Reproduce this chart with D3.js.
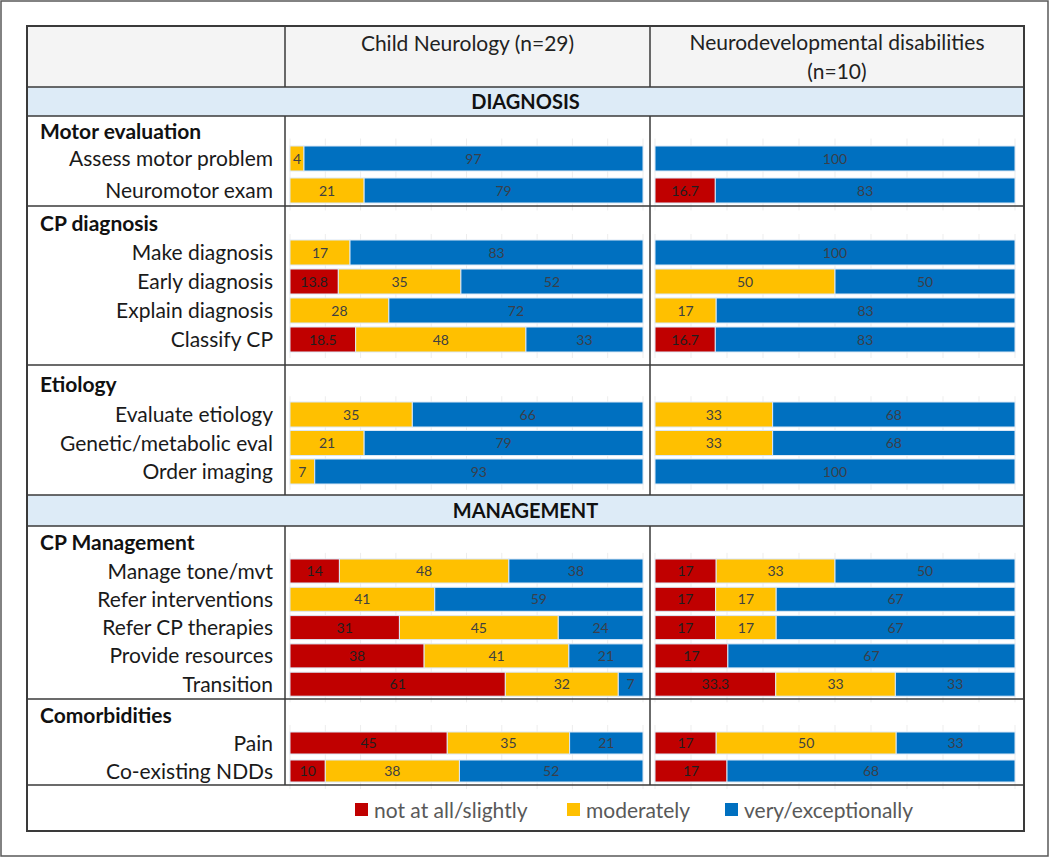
<!DOCTYPE html>
<html>
<head>
<meta charset="utf-8">
<script src="https://cdn.jsdelivr.net/npm/d3@7"></script>
<style>
  body { margin: 0; background: #fff; }
  svg { display: block; }
</style>
</head>
<body>
<script>
const groups = ["Motor evaluation", "CP diagnosis", "Etiology", "CP Management", "Comorbidities"];
const items = ["Assess motor problem", "Neuromotor exam",
    "Make diagnosis", "Early diagnosis", "Explain diagnosis", "Classify CP",
    "Evaluate etiology", "Genetic/metabolic eval", "Order imaging",
    "Manage tone/mvt", "Refer interventions", "Refer CP therapies", "Provide resources", "Transition",
    "Pain", "Co-existing NDDs"];
const itemGroup = [0, 0, 1, 1, 1, 1, 2, 2, 2, 3, 3, 3, 3, 3, 4, 4];
const columns = ["Child Neurology (n=29)", "Neurodevelopmental disabilities (n=10)"];
const levels = ["not at all/slightly", "moderately", "very/exceptionally"];

// Child Neurology
const cnNot = [0, 0, 0, 13.8, 0, 18.5, 0, 0, 0, 14, 0, 31, 38, 61, 45, 10];
const cnMod = [4, 21, 17, 35, 28, 48, 35, 21, 7, 48, 41, 45, 41, 32, 35, 38];
const cnVery = [97, 79, 83, 52, 72, 33, 66, 79, 93, 38, 59, 24, 21, 7, 21, 52];
// Neurodevelopmental disabilities
const nddNot = [0, 16.7, 0, 0, 0, 16.7, 0, 0, 0, 17, 17, 17, 17, 33.3, 17, 17];
const nddMod = [0, 0, 0, 50, 17, 0, 33, 33, 0, 33, 17, 17, 0, 33, 50, 0];
const nddVery = [100, 83, 100, 50, 83, 83, 68, 68, 100, 50, 67, 67, 67, 33, 33, 68];

const colors = ["#C00000", "#FFC000", "#0070C0"];
const labelColors = ["#1f1f1f", "#404040", "#3a3f4a"];

const width = 1050, height = 858;
const tL = 27, tR = 1024, tT = 26, tB = 831;
const c1 = 285, c2 = 650;
const font = "Lato, 'Open Sans', sans-serif";

// section geometry: [top, bottom, headingY, firstBarTop, pitch, barH]
const layout = [
    [116, 206, 131, 146, 32, 25],
    [206, 365, 223, 240, 29, 25],
    [365, 495, 384, 402, 28.5, 25],
    [526, 699, 542, 559, 28.3, 24],
    [699, 785, 715, 732, 28, 22]
];
const bands = [["DIAGNOSIS", 87, 116], ["MANAGEMENT", 495, 526]];

const svg = d3.select('body')
    .append('svg')
    .attr('width', width)
    .attr('height', height);

svg.append('rect')
    .attr('x', 1).attr('y', 1)
    .attr('width', width - 3).attr('height', height - 3)
    .attr('fill', '#fff')
    .attr('stroke', '#595959')
    .attr('stroke-width', 1.5);

// header row
svg.append('rect')
    .attr('x', tL).attr('y', tT)
    .attr('width', tR - tL).attr('height', 87 - tT)
    .attr('fill', '#f4f4f4');

const head = (x, y, t) => svg.append('text')
    .attr('x', x).attr('y', y)
    .attr('text-anchor', 'middle')
    .style('font-family', font).style('font-size', '21px').style('fill', '#222')
    .text(t);
head((c1 + c2) / 2, 51, columns[0]);
head((c2 + tR) / 2, 50, "Neurodevelopmental disabilities");
head((c2 + tR) / 2, 79, "(n=10)");

// DIAGNOSIS / MANAGEMENT bands
bands.forEach(function (b) {
    svg.append('rect')
        .attr('x', tL).attr('y', b[1])
        .attr('width', tR - tL).attr('height', b[2] - b[1])
        .attr('fill', '#DDEBF7');
    svg.append('text')
        .attr('x', (tL + tR) / 2).attr('y', (b[1] + b[2]) / 2 + 7)
        .attr('text-anchor', 'middle')
        .style('font-family', font).style('font-size', '20px')
        .style('font-weight', 'bold').style('fill', '#111')
        .text(b[0]);
});

const x1 = d3.scaleLinear().domain([0, 1]).range([290, 643]);
const x2 = d3.scaleLinear().domain([0, 1]).range([655, 1015]);
const panels = [
    {x: x1, not: cnNot, mod: cnMod, very: cnVery},
    {x: x2, not: nddNot, mod: nddMod, very: nddVery}
];

const stack = d3.stack()
    .keys([0, 1, 2])
    .offset(d3.stackOffsetExpand);

groups.forEach(function (g, gi) {
    const L = layout[gi];
    const idx = d3.range(items.length).filter(i => itemGroup[i] === gi);
    const names = idx.map(i => items[i]);
    const gap = L[4] - L[5];
    const y = d3.scaleBand()
        .domain(names)
        .range([L[3] - gap / 2, L[3] - gap / 2 + names.length * L[4]])
        .paddingInner(gap / L[4])
        .paddingOuter(gap / L[4] / 2);

    svg.append('text')
        .attr('x', 40).attr('y', L[2] + 7.5)
        .style('font-family', font).style('font-size', '21px')
        .style('font-weight', 'bold').style('fill', '#111')
        .text(g);

    svg.append('g')
        .selectAll('text')
        .data(names)
        .enter().append('text')
        .attr('x', 273)
        .attr('y', d => y(d) + y.bandwidth() / 2 + 7.5)
        .attr('text-anchor', 'end')
        .style('font-family', font).style('font-size', '21px').style('fill', '#1a1a1a')
        .text(d => d);

    panels.forEach(function (p) {
        const rows = idx.map(i => ({name: items[i], 0: p.not[i], 1: p.mod[i], 2: p.very[i]}));
        const series = stack(rows);

        // faint gridlines
        svg.append('g')
            .selectAll('line')
            .data(d3.range(0, 1.01, 0.1))
            .enter().append('line')
            .attr('x1', d => p.x(d)).attr('x2', d => p.x(d))
            .attr('y1', y.range()[0] - 4).attr('y2', y.range()[1] + 4)
            .attr('stroke', '#ededed')
            .attr('stroke-width', 1);

        series.forEach(function (s, k) {
            const segs = s.map((d, j) => ({d: d, v: rows[j][k], name: rows[j].name}))
                .filter(e => e.v > 0);
            svg.append('g')
                .selectAll('rect')
                .data(segs)
                .enter().append('rect')
                .attr('x', e => p.x(e.d[0]))
                .attr('y', e => y(e.name))
                .attr('width', e => p.x(e.d[1]) - p.x(e.d[0]))
                .attr('height', y.bandwidth())
                .attr('fill', colors[k])
                .attr('stroke', '#dbe8f5')
                .attr('stroke-width', 1);
            svg.append('g')
                .selectAll('text')
                .data(segs)
                .enter().append('text')
                .attr('x', e => (p.x(e.d[0]) + p.x(e.d[1])) / 2)
                .attr('y', e => y(e.name) + y.bandwidth() / 2 + 5)
                .attr('text-anchor', 'middle')
                .style('font-family', font).style('font-size', '14px')
                .style('fill', labelColors[k])
                .text(e => e.v);
        });
    });
});

// table lines
const line = (xa, ya, xb, yb, w) => svg.append('line')
    .attr('x1', xa).attr('y1', ya).attr('x2', xb).attr('y2', yb)
    .attr('stroke', '#3a3a3a').attr('stroke-width', w);

[87, 116, 206, 365, 495, 526, 699, 785].forEach(yy => line(tL, yy, tR, yy, 1.5));
[[tT, 87], [116, 495], [526, 785]].forEach(function (r) {
    line(c1, r[0], c1, r[1], 1.5);
    line(c2, r[0], c2, r[1], 1.5);
});
svg.append('rect')
    .attr('x', tL).attr('y', tT)
    .attr('width', tR - tL).attr('height', tB - tT)
    .attr('fill', 'none')
    .attr('stroke', '#3a3a3a')
    .attr('stroke-width', 2);

// legend
const legendX = [355, 567, 725];
const legend = svg.append('g')
    .selectAll('g')
    .data(levels)
    .enter().append('g')
    .attr('transform', (d, i) => 'translate(' + legendX[i] + ',810)');
legend.append('rect')
    .attr('x', 0).attr('y', -7)
    .attr('width', 13).attr('height', 13)
    .attr('fill', (d, i) => colors[i]);
legend.append('text')
    .attr('x', 19).attr('y', 7.5)
    .style('font-family', font).style('font-size', '21px').style('fill', '#595959')
    .text(d => d);
</script>
</body>
</html>
